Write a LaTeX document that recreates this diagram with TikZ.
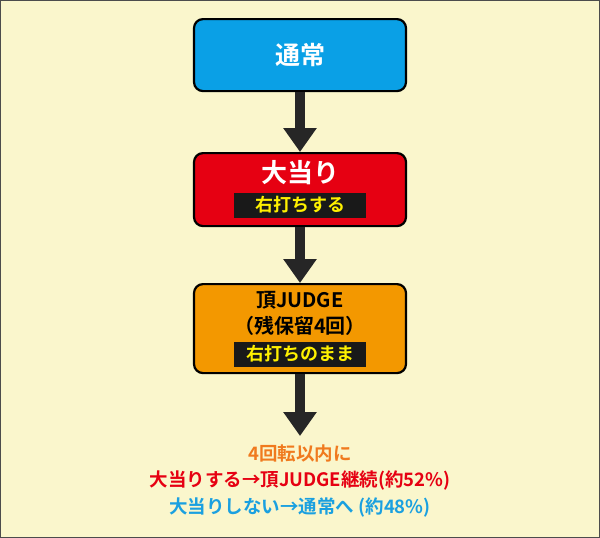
\documentclass[tikz,border=0pt]{standalone}
\usepackage{fontspec}
\newfontfamily\jp{Noto Sans CJK JP Bold}
\usetikzlibrary{arrows.meta}
\definecolor{bg}{HTML}{FAF6CC}
\definecolor{cblue}{HTML}{0AA0E6}
\definecolor{cred}{HTML}{E60012}
\definecolor{corange}{HTML}{F39800}
\definecolor{tyellow}{HTML}{FFF100}
\definecolor{torange}{HTML}{F07A1E}
\definecolor{tred}{HTML}{E60012}
\definecolor{tblue}{HTML}{1AA0E0}
\begin{document}
\begin{tikzpicture}[x=1pt,y=-1pt,
  box/.style={draw=black,line width=2.2pt,rounded corners=9pt,minimum width=212pt,anchor=north},
  lab/.style={fill=black!90,text=tyellow,minimum width=132pt,minimum height=25pt,inner sep=0pt,font=\jp\fontsize{18}{18}\selectfont},
  arr/.style={line width=10pt,-{Triangle[length=24pt,width=32pt]},black!85},
  btxt/.style={font=\jp\fontsize{18.5}{19}\selectfont}]
\fill[bg,draw=black!70,line width=1pt] (0.5,0.5) rectangle (599.5,537.5);
\useasboundingbox (0,0) rectangle (600,538);
\node[box,fill=cblue,minimum height=72pt,text=white,font=\jp\fontsize{25}{25}\selectfont] (n1) at (300,18) {通常};
\node[box,fill=cred,minimum height=73pt] (n2) at (300,152) {};
\node[text=white,font=\jp\fontsize{26}{26}\selectfont] (t2) at (300,173) {大当り};
\node[lab] (l2) at (300,205) {右打ちする};
\node[box,fill=corange,minimum height=89pt] (n3) at (300,283) {};
\node[font=\jp\fontsize{20}{20}\selectfont] (t3a) at (300,300) {頂JUDGE};
\node[font=\jp\fontsize{20}{20}\selectfont] (t3b) at (300,326) {（残保留4回）};
\node[lab] (l3) at (300,354) {右打ちのまま};
\coordinate (e) at (300,436);
\draw[arr] (n1.south) -- (n2.north);
\draw[arr] (n2.south) -- (n3.north);
\draw[arr] (n3.south) -- (e);
\node[btxt,text=torange] (b1) at (300,453) {4回転以内に};
\node[btxt,text=tred] (b2) at (300,481) {大当りする→頂JUDGE継続(約52\%)};
\node[btxt,text=tblue] (b3) at (300,508) {大当りしない→通常へ (約48\%)};
\end{tikzpicture}
\end{document}
